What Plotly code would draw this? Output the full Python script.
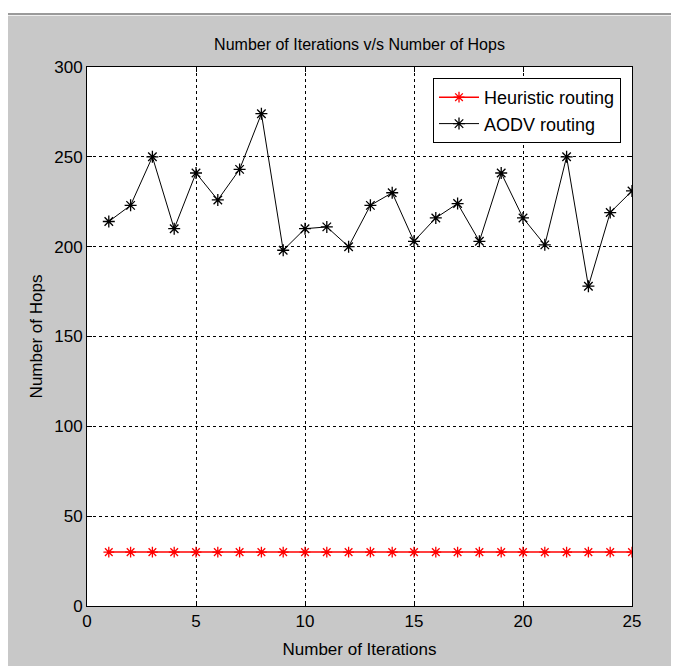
import plotly.graph_objects as go

iterations = list(range(1, 26))
heuristic_hops = [30] * 25
aodv_hops = [214, 223, 250, 210, 241, 226, 243, 274, 198, 210, 211, 200, 223,
             230, 203, 216, 224, 203, 241, 216, 201, 250, 178, 219, 231]
x_ticks = [0, 5, 10, 15, 20, 25]
y_ticks = [0, 50, 100, 150, 200, 250, 300]

NARROW = "Liberation Sans Narrow, Arial Narrow, Liberation Sans, Arial"
REG = "Liberation Sans, Arial"

OFF = 8  # browser body margin
W, H = 679 - OFF, 666 - OFF
L, T = 87 - OFF, 67 - OFF
pw, ph = 545, 539
R = W - L - pw
B = H - T - ph

def px(xp):  # xp in window pixels
    return (xp - OFF - L) / pw

def py(yp):
    return 1 - (yp - OFF - T) / ph

fig = go.Figure()
fig.add_trace(go.Scatter(
    x=iterations, y=heuristic_hops, mode="lines+markers", name="Heuristic routing",
    line=dict(color="#ff0000", width=1.5),
    marker=dict(symbol="asterisk-open", size=9, color="#ff0000", line=dict(color="#ff0000", width=1.3)),
))
fig.add_trace(go.Scatter(
    x=iterations, y=aodv_hops, mode="lines+markers", name="AODV routing",
    line=dict(color="#000000", width=1),
    marker=dict(symbol="asterisk-open", size=10, color="#000000", line=dict(color="#000000", width=1.3)),
))

axis_common = dict(
    showline=True, linecolor="black", linewidth=1, mirror="ticks",
    ticks="inside", ticklen=5, tickcolor="black",
    showgrid=True, gridcolor="black", griddash="3px,3px", gridwidth=1,
    zeroline=False, tickfont=dict(family=NARROW, size=17, color="black"),
)

fig.update_xaxes(range=[0, 25], tickvals=x_ticks, **axis_common,
                 title=dict(text="Number of Iterations", font=dict(family=NARROW, size=17, color="black"), standoff=12))
fig.update_yaxes(range=[0, 300], tickvals=y_ticks, **axis_common,
                 title=dict(text="Number of Hops", font=dict(family=REG, size=17, color="black"), standoff=7))

shapes = [
    # white band on top (window y 0..13)
    dict(type="rect", xref="paper", yref="paper", x0=px(0), x1=px(700), y0=py(13), y1=py(-1),
         fillcolor="white", line=dict(width=0), layer="above"),
    # dark separator line
    dict(type="rect", xref="paper", yref="paper", x0=px(8), x1=px(700), y0=py(15), y1=py(13),
         fillcolor="#9a9a9a", line=dict(width=0), layer="above"),
    dict(type="rect", xref="paper", yref="paper", x0=px(8), x1=px(700), y0=py(16), y1=py(15),
         fillcolor="#f0f0f0", line=dict(width=0), layer="above"),
]

fig.update_layout(
    width=W, height=H,
    margin=dict(l=L, r=R, t=T, b=B),
    paper_bgcolor="#c8c8c8", plot_bgcolor="white",
    title=dict(text="Number of Iterations v/s Number of Hops", x=(359.5 - OFF) / W,
               xanchor="center", y=1 - (44 - OFF) / H, yanchor="middle",
               font=dict(family=NARROW, size=16, color="black")),
    showlegend=True,
    legend=dict(x=px(433), y=py(78), xanchor="left", yanchor="top",
                bgcolor="white", bordercolor="black", borderwidth=1,
                font=dict(family=NARROW, size=18, color="black"),
                itemwidth=40, tracegroupgap=4),
    shapes=shapes,
)

fig.write_html("out.html")
